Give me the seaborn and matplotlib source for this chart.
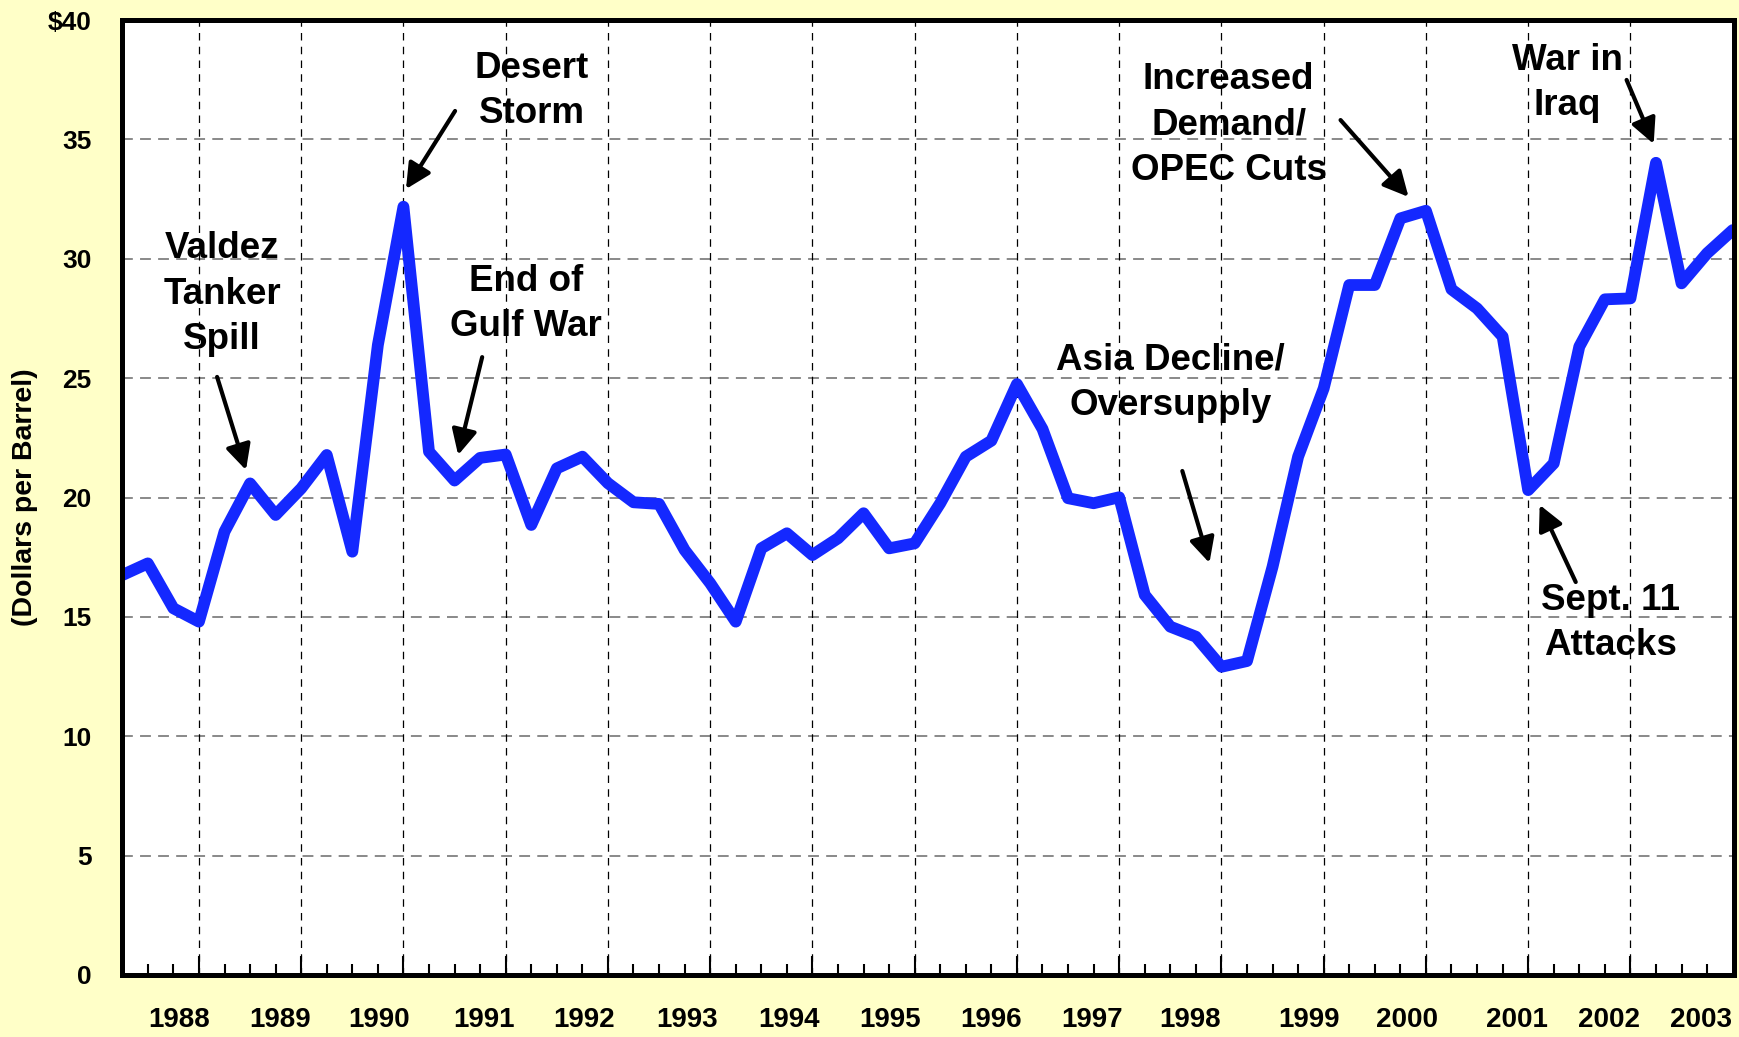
import numpy as np
import pandas as pd
import seaborn as sns
import matplotlib.pyplot as plt
from matplotlib.ticker import FixedLocator
import matplotlib.transforms as mtransforms

# quarterly crude oil price, 1988Q1 .. 2003Q4 (dollars per barrel)
prices = [16.75, 17.24, 15.36, 14.80, 18.57, 20.59, 19.27, 20.38,
          21.78, 17.73, 26.39, 32.18, 21.92, 20.71, 21.66, 21.80,
          18.85, 21.22, 21.71, 20.60, 19.80, 19.73, 17.80, 16.41,
          14.80, 17.87, 18.50, 17.59, 18.29, 19.34, 17.87, 18.08,
          19.76, 21.71, 22.38, 24.75, 22.87, 19.97, 19.76, 20.01,
          15.92, 14.59, 14.17, 12.91, 13.15, 17.10, 21.71, 24.57,
          28.90, 28.90, 31.69, 32.01, 28.72, 27.92, 26.74, 20.31,
          21.43, 26.32, 28.30, 28.34, 34.02, 28.97, 30.23, 31.20]
quarters = [f"{y}Q{q}" for y in range(1988, 2004) for q in range(1, 5)]

years = [str(y) for y in range(1988, 2004)]
# where the year labels sit along the quarter axis
year_label_pos = [2.22, 6.17, 10.05, 14.16, 18.07, 22.10, 26.10, 30.04,
                  33.98, 37.95, 41.79, 46.41, 50.27, 54.55, 58.17, 61.75]

# events: label, text position, arrow tail, arrow head
events = ["Valdez\nTanker\nSpill", "Desert\nStorm", "End of\nGulf War",
          "Asia Decline/\nOversupply", "Increased\nDemand/\nOPEC Cuts",
          "War in\nIraq", "Sept. 11\nAttacks"]
event_text = [(3.90, 28.52), (16.03, 37.03), (15.80, 28.10), (41.00, 24.80),
              (43.28, 35.60), (56.54, 37.36), (58.23, 14.74)]
arrow_tail = [(3.71, 25.05), (13.02, 36.19), (14.08, 25.88), (41.47, 21.11),
              (47.66, 35.81), (58.85, 37.49), (56.86, 16.46)]
arrow_head = [(4.84, 21.15), (11.10, 32.92), (13.14, 21.78), (42.53, 17.26),
              (50.32, 32.59), (59.91, 34.81), (55.45, 19.69)]

df = pd.DataFrame({"quarter": quarters, "x": np.arange(len(prices)), "price": prices})

sns.set_theme(style="white")
plt.rcParams['font.family'] = ['Liberation Sans', 'DejaVu Sans']
plt.rcParams['font.weight'] = 'bold'
plt.rcParams['text.color'] = 'black'
plt.rcParams['axes.labelcolor'] = 'black'
plt.rcParams['xtick.color'] = 'black'
plt.rcParams['ytick.color'] = 'black'

bg = '#FFFFC8'
fig = plt.figure(figsize=(17.39, 10.37), dpi=100, facecolor=bg)
ax = fig.add_axes([0.0703, 0.0598, 0.9268, 0.9209])
ax.set_facecolor('white')

sns.lineplot(data=df, x="x", y="price", ax=ax, color='#1428FF', linewidth=8.5)

ax.set_xlim(0, 63.05)
ax.set_ylim(0, 40)

# grid
for v in range(5, 40, 5):
    ax.axhline(v, color='#808080', lw=1.3, dashes=(6, 4), zorder=0)
major = list(range(3, 63, 4))
for q in major:
    ax.axvline(q, color='black', lw=0.9, dashes=(6, 5), zorder=0)

# ticks
ax.xaxis.set_major_locator(FixedLocator(major))
ax.xaxis.set_minor_locator(FixedLocator([q for q in range(1, 63) if q not in major]))
ax.tick_params(axis='x', which='major', direction='in', length=14, width=1.5,
               color='black', bottom=True, labelbottom=False)
ax.tick_params(axis='x', which='minor', direction='in', length=8, width=1.5,
               color='black', bottom=True)
ax.set_yticks(range(0, 45, 5))
ax.set_yticklabels(['0', '5', '10', '15', '20', '25', '30', '35', '$40'])
ax.tick_params(axis='y', length=0, pad=22, labelsize=19, labelcolor='black')
for lbl in ax.get_yticklabels():
    lbl.set_fontweight('bold')

trans = mtransforms.blended_transform_factory(ax.transData, ax.transAxes)
for pos, lab in zip(year_label_pos, years):
    ax.text(pos, -0.047, lab, transform=trans, ha='center', va='center',
            fontsize=20, fontweight='bold', color='black')

ax.set_xlabel('')
ax.set_ylabel('(Dollars per Barrel)', fontsize=20.5, fontweight='bold', color='black')
ax.yaxis.set_label_coords(-0.052, 0.5)

for sp in ax.spines.values():
    sp.set_visible(True)
    sp.set_color('black')
    sp.set_linewidth(3.6)

# annotations
for lab, (tx, ty), tail, head in zip(events, event_text, arrow_tail, arrow_head):
    ax.text(tx, ty, lab, ha='center', va='center', fontsize=26.5, fontweight='bold',
            linespacing=1.38, color='black')
    ax.annotate('', xy=head, xytext=tail,
                arrowprops=dict(arrowstyle='-|>', color='black', lw=3,
                                mutation_scale=38, shrinkA=0, shrinkB=0))

fig.savefig('out.png', dpi=100, facecolor=bg)
